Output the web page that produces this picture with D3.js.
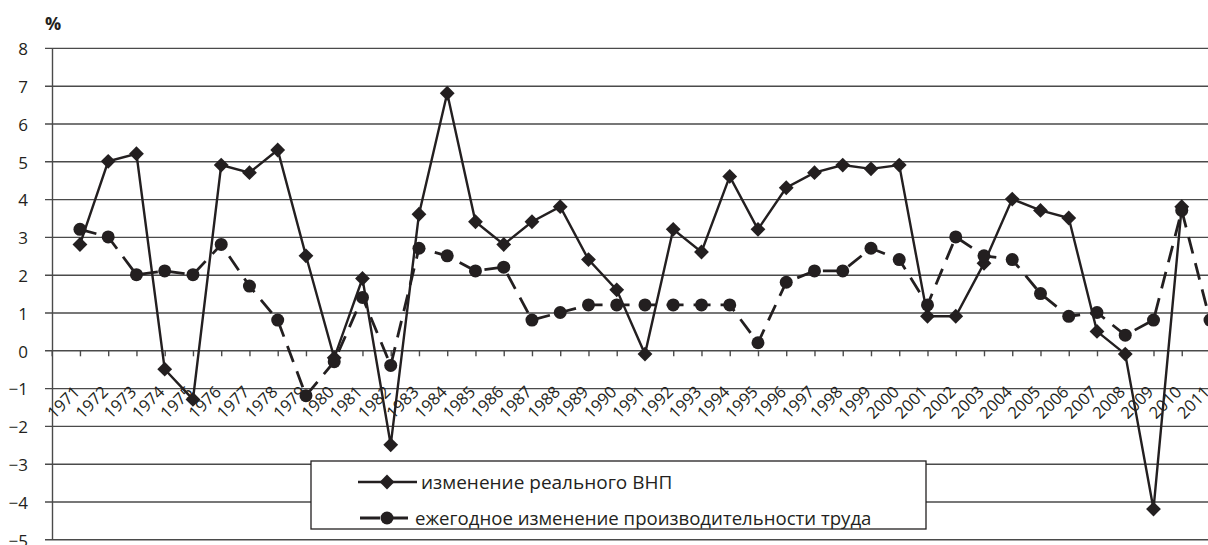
<!DOCTYPE html>
<html><head><meta charset="utf-8">
<script src="https://cdn.jsdelivr.net/npm/d3@7"></script>
<style>body{margin:0;background:#fff;} svg{display:block;font-family:"Open Sans","Noto Sans",sans-serif;}</style>
</head><body><svg id="c" width="1208" height="545"></svg>
<script>
const years = [1971,1972,1973,1974,1975,1976,1977,1978,1979,1980,
  1981,1982,1983,1984,1985,1986,1987,1988,1989,1990,
  1991,1992,1993,1994,1995,1996,1997,1998,1999,2000,
  2001,2002,2003,2004,2005,2006,2007,2008,2009,2010,2011];
const gnp = [2.8,5.0,5.2,-0.5,-1.3,4.9,4.7,5.3,2.5,-0.2,
  1.9,-2.5,3.6,6.8,3.4,2.8,3.4,3.8,2.4,1.6,
  -0.1,3.2,2.6,4.6,3.2,4.3,4.7,4.9,4.8,4.9,
  0.9,0.9,2.3,4.0,3.7,3.5,0.5,-0.1,-4.2,3.8,null];
const labor = [3.2,3.0,2.0,2.1,2.0,2.8,1.7,0.8,-1.2,-0.3,
  1.4,-0.4,2.7,2.5,2.1,2.2,0.8,1.0,1.2,1.2,
  1.2,1.2,1.2,1.2,0.2,1.8,2.1,2.1,2.7,2.4,
  1.2,3.0,2.5,2.4,1.5,0.9,1.0,0.4,0.8,3.7,0.8];
const yTicks = [-5,-4,-3,-2,-1,0,1,2,3,4,5,6,7,8];
const seriesNames = ["изменение реального ВНП","ежегодное изменение производительности труда"];
const unitLabel = "%";

const ink = "#231f20";
const svg = d3.select("#c");
const x = d3.scaleLinear().domain([1970, 2011]).range([51.7, 1210]);
const y = d3.scaleLinear().domain([-5, 8]).range([539.3, 47.9]);

// gridlines
const grid = svg.append("g").attr("transform","translate(45,0)")
  .call(d3.axisRight(y).tickValues(yTicks).tickSize(1170).tickFormat(""));
grid.select(".domain").remove();
grid.selectAll("line").attr("stroke","#4a4a4a").attr("stroke-width",1.4);

// y axis
const ya = svg.append("g").attr("transform","translate(52,0)")
  .call(d3.axisLeft(y).tickValues(yTicks).tickSize(0).tickSizeOuter(0).tickPadding(24));
ya.select(".domain").attr("stroke","#4a4a4a").attr("stroke-width",1.4);
ya.selectAll("text").attr("font-size",17).attr("fill",ink).attr("dy","0.4em")
  .attr("font-family","'Open Sans',sans-serif");

// x ticks on zero line
const xa = svg.append("g").attr("transform",`translate(0,${y(0)})`)
  .call(d3.axisBottom(x).tickValues([1970].concat(years)).tickSize(6).tickFormat(""));
xa.select(".domain").remove();
xa.selectAll("line").attr("stroke","#4a4a4a").attr("stroke-width",1.4);

// x labels
svg.append("g").selectAll("text").data(years).join("text")
  .attr("transform", d => `translate(${x(d)+1},393) rotate(-45)`)
  .attr("text-anchor","end")
  .attr("font-size",16.5).attr("fill",ink)
  .text(d => d);

// unit
svg.append("text").attr("x",45).attr("y",30).attr("font-size",18).attr("font-weight","bold").attr("fill",ink).text(unitLabel);

// lines
const lineG = d3.line().defined(d => d[1] != null).x(d => x(d[0])).y(d => y(d[1]));
const gnpPts = years.map((yr,i) => [yr, gnp[i]]);
const labPts = years.map((yr,i) => [yr, labor[i]]);

svg.append("path").datum(labPts).attr("d", lineG).attr("fill","none")
  .attr("stroke",ink).attr("stroke-width",2.8).attr("stroke-dasharray","17,10");
svg.append("path").datum(gnpPts).attr("d", lineG).attr("fill","none")
  .attr("stroke",ink).attr("stroke-width",2.4);

const diamond = d3.symbol().type(d3.symbolSquare).size(110);
svg.append("g").selectAll("path").data(gnpPts.filter(d => d[1] != null)).join("path")
  .attr("d", diamond())
  .attr("transform", d => `translate(${x(d[0])},${y(d[1])}) rotate(45)`)
  .attr("fill",ink);
svg.append("g").selectAll("circle").data(labPts).join("circle")
  .attr("cx", d => x(d[0])).attr("cy", d => y(d[1])).attr("r",6.5).attr("fill",ink);

// legend
const lg = svg.append("g");
lg.append("rect").attr("x",311).attr("y",461).attr("width",615).attr("height",68)
  .attr("fill","#fff").attr("stroke",ink).attr("stroke-width",1.3);
lg.append("line").attr("x1",358).attr("x2",417).attr("y1",482).attr("y2",482).attr("stroke",ink).attr("stroke-width",2.4);
lg.append("path").attr("d",diamond()).attr("transform","translate(387,482) rotate(45)").attr("fill",ink);
lg.append("text").attr("x",421).attr("y",482).attr("dy","0.35em").attr("font-size",19).attr("fill",ink).text(seriesNames[0]);
lg.append("line").attr("x1",360).attr("x2",408).attr("y1",518).attr("y2",518).attr("stroke",ink).attr("stroke-width",2.8).attr("stroke-dasharray","20,8");
lg.append("circle").attr("cx",387).attr("cy",518).attr("r",6.5).attr("fill",ink);
lg.append("text").attr("x",415).attr("y",518).attr("dy","0.35em").attr("font-size",18.6).attr("fill",ink).text(seriesNames[1]);
</script></body></html>
